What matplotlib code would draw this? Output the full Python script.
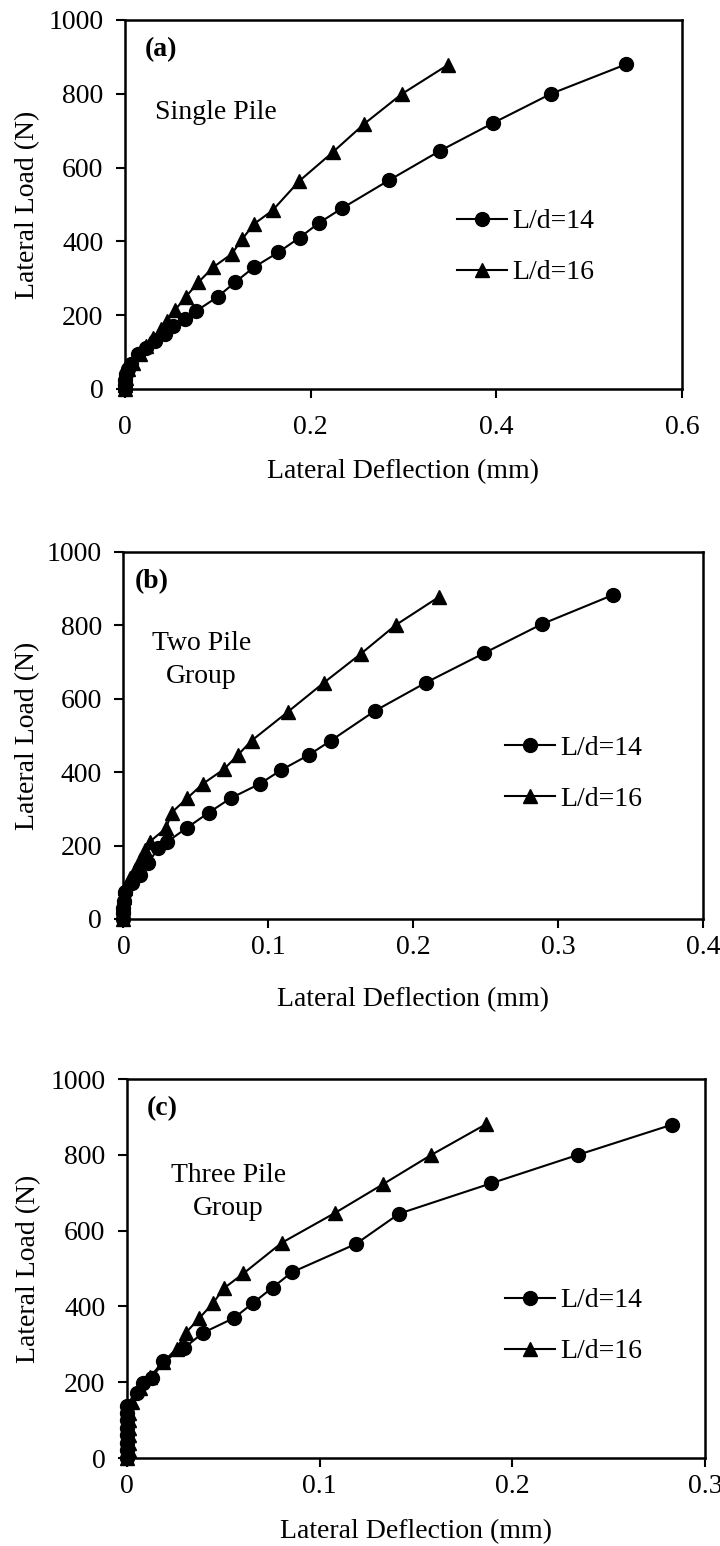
import matplotlib
matplotlib.use("Agg")
import matplotlib.pyplot as plt
from matplotlib.ticker import FuncFormatter

plt.rcParams['font.family'] = ['Liberation Serif', 'DejaVu Serif']

# Panel (a) - single pile
a14_x = [0, 0, 0.0005, 0.001, 0.003, 0.007, 0.014, 0.023, 0.032, 0.043, 0.052, 0.0645, 0.076,
         0.100, 0.119, 0.139, 0.165, 0.188, 0.209, 0.234, 0.284, 0.339, 0.396, 0.459, 0.54]
a14_y = [0, 10, 25, 40, 55, 67, 94, 112, 130, 149, 171, 190, 210,
         250, 290, 330, 370, 410, 450, 490, 565, 645, 720, 800, 880]
a16_x = [0, 0, 0.0005, 0.001, 0.0036, 0.009, 0.016, 0.023, 0.030, 0.039, 0.045, 0.054, 0.0656,
         0.079, 0.095, 0.115, 0.1265, 0.139, 0.159, 0.1875, 0.224, 0.258, 0.298, 0.3477]
a16_y = [0, 10, 20, 30, 54, 71, 94, 117, 139, 162, 185, 214, 250,
         289, 330, 366, 407, 447, 484, 563, 642, 719, 799, 878]

# Panel (b) - two pile group
b14_x = [0, 0, 0, 0.0005, 0.001, 0.0057, 0.0114, 0.017, 0.024, 0.0298, 0.044, 0.059, 0.074,
         0.094, 0.109, 0.128, 0.1432, 0.1736, 0.2088, 0.2488, 0.2886, 0.338]
b14_y = [0, 15, 30, 50, 74, 97, 120, 152, 193, 209, 249, 290, 329,
         368, 406, 447, 486, 567, 644, 724, 803, 883]
b16_x = [0, 0, 0, 0.0005, 0.001, 0.0045, 0.0079, 0.0114, 0.0148, 0.0183, 0.0293, 0.0333, 0.044,
         0.0547, 0.0694, 0.079, 0.0885, 0.1137, 0.1384, 0.1637, 0.188, 0.218]
b16_y = [0, 20, 40, 60, 84, 111, 134, 161, 188, 211, 247, 290, 329,
         368, 408, 447, 486, 565, 644, 722, 801, 878]

# Panel (c) - three pile group
c14_x = [0, 0, 0, 0, 0, 0, 0, 0, 0.005, 0.0085, 0.0128, 0.0189, 0.0296, 0.0393,
         0.0557, 0.0656, 0.0756, 0.0855, 0.1188, 0.1413, 0.189, 0.234, 0.283]
c14_y = [0, 20, 40, 60, 80, 100, 120, 137, 171, 197, 210, 255, 290, 330,
         370, 410, 450, 490, 565, 645, 725, 800, 880]
c16_x = [0, 0.001, 0.001, 0.001, 0.001, 0.001, 0.001, 0.0024, 0.0067, 0.0119, 0.0189, 0.0258,
         0.0306, 0.0375, 0.0445, 0.0503, 0.0604, 0.0803, 0.108, 0.133, 0.1576, 0.1863]
c16_y = [0, 20, 40, 60, 80, 100, 120, 149, 184, 215, 254, 289,
         331, 369, 408, 448, 487, 568, 647, 723, 799, 881]

panel_tags = ['(a)', '(b)', '(c)']
panel_names = ['Single Pile', 'Two Pile\nGroup', 'Three Pile\nGroup']
x_maxes = [0.6, 0.4, 0.3]
x_steps = [0.2, 0.1, 0.1]
y_ticks = [0, 200, 400, 600, 800, 1000]
series_labels = ['L/d=14', 'L/d=16']

fig = plt.figure(figsize=(7.2, 15.46), dpi=100)

rects = [[0.1736, 0.7484, 0.7736, 0.2387],
         [0.1715, 0.4056, 0.8049, 0.2374],
         [0.1764, 0.0569, 0.8028, 0.2451]]
tag_pos = [(0.065, 0.919), (0.048, 0.918), (0.061, 0.923)]
name_pos = [(0.163, 0.748), (0.135, 0.706), (0.175, 0.702)]
leg_pos = [(0.596, 0.384), (0.658, 0.395), (0.654, 0.348)]
xlab_y = [-0.225, -0.221, -0.195]
ylab_x = [-0.174, -0.165, -0.171]
xpad = [12, 5, 5]

data = [(a14_x, a14_y, a16_x, a16_y),
        (b14_x, b14_y, b16_x, b16_y),
        (c14_x, c14_y, c16_x, c16_y)]

fs = 20
for i in range(3):
    ax = fig.add_axes(rects[i])
    x14, y14, x16, y16 = data[i]
    ax.plot(x14, y14, color='black', lw=1.5, marker='o', ms=10, clip_on=False, label=series_labels[0])
    ax.plot(x16, y16, color='black', lw=1.5, marker='^', ms=10.5, clip_on=False, label=series_labels[1])

    ax.set_xlim(0, x_maxes[i])
    ax.set_ylim(0, 1000)
    n = int(round(x_maxes[i] / x_steps[i]))
    ax.set_xticks([k * x_steps[i] for k in range(n + 1)])
    ax.set_yticks(y_ticks)
    ax.xaxis.set_major_formatter(FuncFormatter(lambda v, p: f'{v:g}'))
    ax.tick_params(axis='both', direction='out', length=6.5, width=1.5, labelsize=fs)
    ax.tick_params(axis='x', pad=xpad[i])
    ax.tick_params(axis='y', pad=9)
    for s in ax.spines.values():
        s.set_linewidth(1.8)

    ax.set_xlabel('Lateral Deflection (mm)', fontsize=fs, va='center')
    ax.xaxis.set_label_coords(0.5, xlab_y[i])
    ax.set_ylabel('Lateral Load (N)', fontsize=fs, va='center')
    ax.yaxis.set_label_coords(ylab_x[i], 0.5)

    ax.text(tag_pos[i][0], tag_pos[i][1], panel_tags[i], transform=ax.transAxes,
            fontsize=fs, fontweight='bold', ha='center', va='center')
    ax.text(name_pos[i][0], name_pos[i][1], panel_names[i], transform=ax.transAxes,
            fontsize=fs, ha='center', va='center', linespacing=1.45)

    ax.legend(loc='center left', bbox_to_anchor=leg_pos[i], frameon=False, fontsize=fs,
              handlelength=1.8, handletextpad=0.2, labelspacing=0.92,
              borderpad=0, borderaxespad=0)

fig.savefig('out.png', dpi=100)
